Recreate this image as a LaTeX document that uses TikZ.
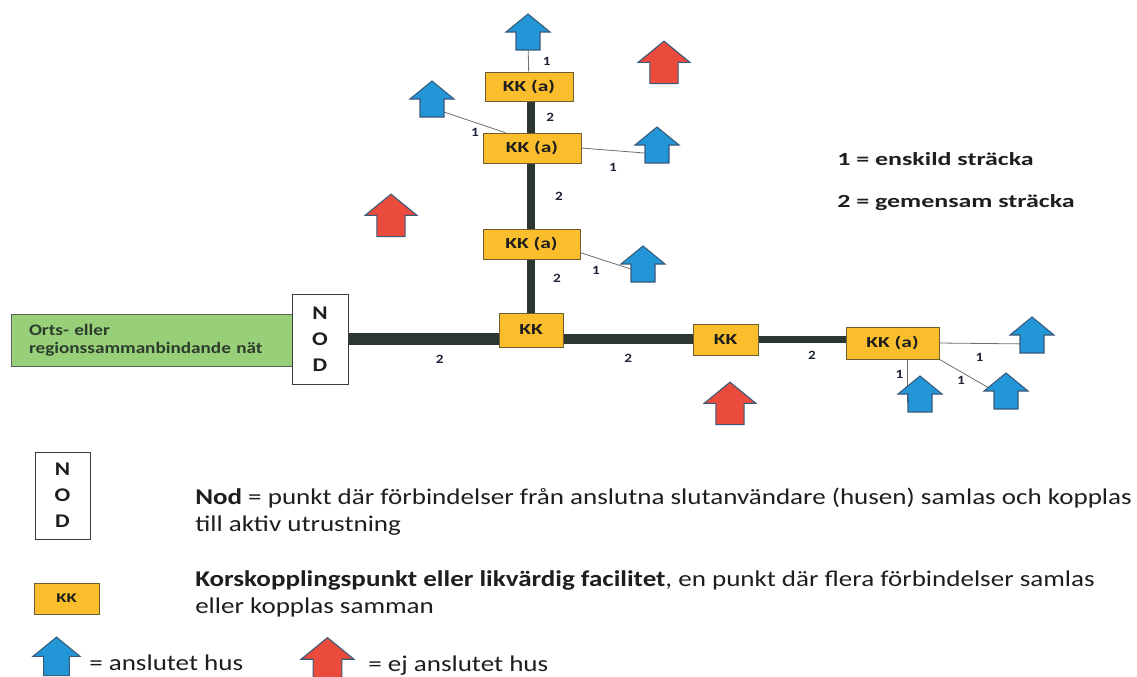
\documentclass[tikz,border=0pt]{standalone}
\usepackage{fontspec}
\setmainfont{Carlito}[FakeStretch=1.2]
\newfontfamily\widefont{Carlito}[FakeStretch=1.4]
\usetikzlibrary{backgrounds}

\definecolor{kkfill}{RGB}{250,190,45}
\definecolor{kkline}{RGB}{110,95,50}
\definecolor{trunkcol}{RGB}{45,55,50}
\definecolor{greenfill}{RGB}{152,208,122}
\definecolor{greenline}{RGB}{90,100,90}
\definecolor{greentext}{RGB}{45,60,45}
\definecolor{boxline}{RGB}{60,60,60}
\definecolor{textcol}{RGB}{30,30,30}
\definecolor{lblcol}{RGB}{30,35,55}
\definecolor{branchcol}{RGB}{110,110,110}
\definecolor{husblue}{RGB}{35,150,215}
\definecolor{husred}{RGB}{235,75,60}
\definecolor{husline}{RGB}{55,90,125}

\tikzset{
  kkbox/.style={draw=kkline, fill=kkfill, inner sep=0, text=textcol,
    font=\widefont\fontsize{11.5}{13}\selectfont\bfseries},
  nodbox/.style={draw=boxline, fill=white, align=center, inner sep=0, text=textcol,
    font=\fontsize{14.5}{19.5}\selectfont\bfseries},
  greenbox/.style={draw=greenline, fill=greenfill, text width=184.5pt, inner xsep=13.5pt,
    minimum height=39pt, align=left, text=greentext,
    font=\fontsize{12}{13.5}\selectfont\bfseries},
  trunk/.style={draw=trunkcol},
  branch/.style={draw=branchcol, line width=0.6pt},
  lbl/.style={inner sep=1pt, text=lblcol, font=\fontsize{9.5}{11}\selectfont\bfseries},
  husedge/.style={draw=husline, line width=0.8pt, line join=miter},
  legend/.style={inner sep=0, align=left, text=textcol, font=\fontsize{16.9}{20.25}\selectfont},
  keytext/.style={inner sep=0, text=textcol, font=\widefont\fontsize{13.9}{16}\selectfont\bfseries}
}

% house arrow: name, shaft centre, colour
\newcommand{\hus}[4][1]{%
  \begin{scope}[shift={(#3)}, scale=#1]
    \filldraw[husedge, fill=#4] (-12,9) -- (-12,-9) -- (-22,-9) -- (0,-27) -- (22,-9) -- (12,-9) -- (12,9) -- cycle;
    \node[inner sep=0, minimum width=#1*18pt, minimum height=#1*13.5pt] (#2) at (0,0) {};
  \end{scope}}

\begin{document}
\begin{tikzpicture}[x=0.75pt, y=-0.75pt]
    \useasboundingbox (0,0) rectangle (1137,676);

    % network
    \node[greenbox] (net) at (152,340) {Orts- eller\\regionssammanbindande nät};
    \node[nodbox, minimum width=42pt, minimum height=67.5pt] (nod) at (320,339) {N\\O\\D};
    \node[kkbox, minimum width=48pt, minimum height=25.5pt] (kk0) at (531,330) {KK};
    \node[kkbox, minimum width=48.75pt, minimum height=23.25pt] (kk1) at (725.5,339.5) {KK};
    \node[kkbox, minimum width=69.75pt, minimum height=24pt] (kkr) at (892.5,343) {KK (a)};
    \node[kkbox, minimum width=72.75pt, minimum height=22.5pt] (kka3) at (531.5,244) {KK (a)};
    \node[kkbox, minimum width=73.5pt, minimum height=22.5pt] (kka2) at (532,148) {KK (a)};
    \node[kkbox, minimum width=66pt, minimum height=21.75pt] (kka1) at (529,86.5) {KK (a)};

    % houses
    \hus{h1}{528,41}{husblue}
    \hus{h2}{432,108}{husblue}
    \hus{h3}{657,154}{husblue}
    \hus{h4}{643,273}{husblue}
    \hus{h5}{1032,344}{husblue}
    \hus{h6}{920,403}{husblue}
    \hus{h7}{1006,400}{husblue}
    \hus[1.18]{r1}{664,73}{husred}
    \hus[1.18]{r2}{391,226}{husred}
    \hus[1.18]{r3}{730,414}{husred}

    \begin{scope}[on background layer]
        \draw[trunk, line width=9pt] (nod) -- node[lbl, below=6.5pt] {2} (nod -| kk0);
        \draw[trunk, line width=7.5pt] (kk0 |- nod) -- node[lbl, below=6.5pt] {2} (kk1 |- nod);
        \draw[trunk, line width=5pt] (kk1) -- node[lbl, below=5.5pt, pos=0.4] {2} (kk1 -| kkr);
        \draw[trunk, line width=6pt] (kk0) -- node[lbl, right=12.5pt] {2} (kk0 |- kka3);
        \draw[trunk, line width=6pt] (kk0 |- kka3) -- node[lbl, right=14pt] {2} (kk0 |- kka2);
        \draw[trunk, line width=6pt] (kk0 |- kka2) -- node[lbl, right=7.5pt] {2} (kk0 |- kka1);

        \draw[branch] (kka1) -- node[lbl, right=9.5pt] {1} (h1);
        \draw[branch] (kka2.150) -- node[lbl, below=3pt] {1} (h2);
        \draw[branch] (kka2.east) -- node[lbl, below=8.5pt] {1} (h3);
        \draw[branch] (kka3.-10) -- node[lbl, below left=3pt] {1} (h4);
        \draw[branch] (kkr.east) -- node[lbl, below=6pt] {1} (h5);
        \draw[branch] (kkr.south -| h6.west) -- node[lbl, left=2pt, pos=0.35] {1} (h6.west);
        \draw[branch] (kkr.south east) -- node[lbl, below left=0pt] {1} (h7.north west);
    \end{scope}

    % key
    \node[keytext, anchor=base west] (key1) at (837,165) {1 = enskild sträcka};
    \node[keytext, anchor=base west] (key2) at (837,207) {2 = gemensam sträcka};

    % legend
    \node[nodbox, minimum width=41.25pt, minimum height=65.25pt] (lnod) at (62.5,495.5) {N\\O\\D};
    \node[legend, anchor=north west] (tnod) at (195,488) {\textbf{Nod} = punkt där förbindelser från anslutna slutanvändare (husen) samlas och kopplas\\till aktiv utrustning};
    \node[kkbox, minimum width=48.75pt, minimum height=23.25pt, font=\widefont\fontsize{10}{12}\selectfont\bfseries] (lkk) at (66.5,598.5) {KK};
    \node[legend, anchor=north west] (tkk) at (195,570) {\textbf{Korskopplingspunkt eller likvärdig facilitet}, en punkt där flera förbindelser samlas\\eller kopplas samman};
    \hus[1.07]{lblue}{56.5,666}{husblue}
    \node[legend, anchor=base west] (tblue) at (89,670) {= anslutet hus};
    \hus[1.2]{lred}{327.5,670}{husred}
    \node[legend, anchor=base west] (tred) at (368,671) {= ej anslutet hus};
\end{tikzpicture}
\end{document}
